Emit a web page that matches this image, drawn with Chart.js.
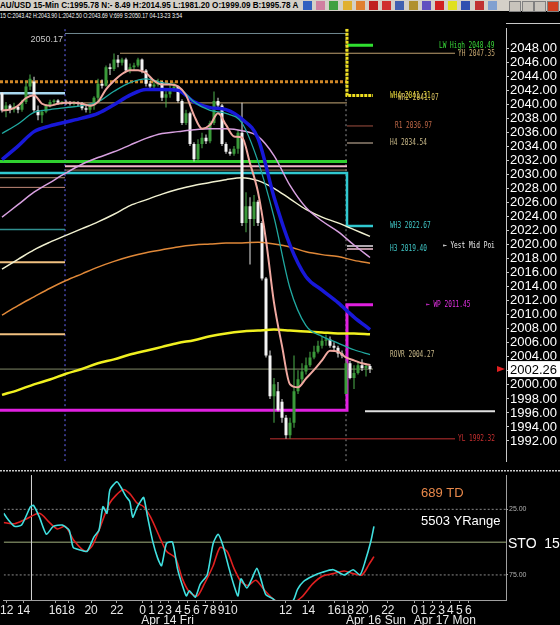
<!DOCTYPE html>
<html>
<head>
<meta charset="utf-8">
<script src="https://cdn.jsdelivr.net/npm/chart.js@4.4.0/dist/chart.umd.min.js"></script>
<style>
html, body { margin: 0; padding: 0; background: #000; width: 560px; height: 625px; overflow: hidden; }
#titlebar { position: absolute; left: 0; top: 0; width: 560px; height: 11px; background: #d4d0c8; }
#titletext { position: absolute; left: 0; top: 0; font: bold 9px "Liberation Sans", Arial, sans-serif; line-height: 11px; color: #000; white-space: nowrap; transform-origin: left top; }
#infotext { position: absolute; left: 0; top: 11px; font: 8px "Liberation Sans", Arial, sans-serif; line-height: 9px; color: #fff; white-space: nowrap; transform-origin: left top; }
.icon { position: absolute; top: 1px; width: 9px; height: 9px; }
#mainChart { position: absolute; left: 0; top: 20px; }
#stoChart { position: absolute; left: 0; top: 470px; }
</style>
</head>
<body>
<div id="titlebar"><div id="titletext">AU/USD 15-Min C:1995.78 N:- 8.49 H:2014.95 L:1981.20 O:1999.09 B:1995.78 A</div></div>
<div id="infotext">15 C:2043.42 H:2043.90 L:2042.50 O:2043.69 V:699 S:2050.17 04-13-23 3:54</div>
<canvas id="mainChart" width="560" height="450"></canvas>
<canvas id="stoChart" width="560" height="155"></canvas>
<script>
// ---- candles (one per bar, bar index = position) ----
const candleOpen = [2041.65, 2039.3, 2039.9, 2039.3, 2039.7, 2039.3, 2040.4, 2042.6, 2043.3, 2039.2,
  2038.5, 2039.0, 2039.9, 2040.4, 2040.6, 2040.3, 2040.4, 2040.3, 2040.1, 2040.3,
  2040.1, 2039.5, 2039.3, 2039.9, 2041.0, 2043.0, 2042.7, 2045.35, 2045.1, 2046.45,
  2046.0, 2046.45, 2044.9, 2045.35, 2045.6, 2046.45, 2044.9, 2043.0, 2042.6, 2042.9,
  2043.2, 2041.0, 2041.5, 2042.3, 2042.6, 2040.55, 2037.4, 2038.8, 2034.4, 2032.2,
  2034.4, 2035.3, 2034.8, 2037.4, 2040.55, 2039.9, 2034.4, 2033.3, 2033.0, 2033.7,
  2036.0, 2023.1, 2025.5, 2023.7, 2026.15, 2023.1, 2015.2, 2004.2, 1998.4, 1999.1,
  1997.6, 1995.3, 1992.8, 1994.6, 1999.1, 2000.8, 2001.9, 2002.8, 2003.9, 2004.75,
  2005.6, 2006.3, 2006.5, 2005.6, 2005.3, 2004.5, 1998.7, 2003.1, 2001.0, 2001.7,
  2002.8, 2002.4, 2002.7];
const candleHigh = [2041.8, 2040.4, 2040.1, 2040.3, 2040.0, 2040.7, 2043.3, 2044.3, 2044.0, 2039.9,
  2039.3, 2040.1, 2040.7, 2040.8, 2040.8, 2040.55, 2040.7, 2040.55, 2040.55, 2040.5,
  2040.4, 2039.9, 2040.1, 2041.2, 2043.7, 2043.6, 2045.6, 2045.9, 2047.3, 2047.1,
  2046.7, 2046.7, 2045.9, 2046.0, 2046.7, 2046.6, 2045.1, 2043.4, 2043.6, 2043.7,
  2043.4, 2042.3, 2042.9, 2043.2, 2042.7, 2040.8, 2039.3, 2039.0, 2034.65, 2035.06,
  2036.0, 2035.75, 2037.7, 2041.9, 2041.0, 2040.1, 2034.65, 2033.7, 2034.1, 2036.4,
  2040.3, 2027.5, 2026.8, 2027.1, 2026.4, 2023.4, 2015.4, 2004.9, 2001.0, 2000.4,
  1998.0, 1995.7, 1995.3, 2004.2, 2002.1, 2003.1, 2003.9, 2004.75, 2005.6, 2006.3,
  2006.9, 2007.2, 2006.9, 2006.1, 2005.6, 2004.9, 2003.5, 2003.4, 2002.8, 2003.4,
  2003.65, 2003.1, 2003.0];
const candleLow = [2038.9, 2038.2, 2038.8, 2038.9, 2038.8, 2039.0, 2040.1, 2042.1, 2038.9, 2037.8,
  2037.4, 2038.8, 2039.6, 2039.9, 2040.0, 2040.0, 2040.0, 2039.9, 2039.9, 2039.8,
  2039.2, 2038.9, 2038.8, 2039.3, 2040.55, 2042.3, 2042.6, 2044.25, 2044.8, 2045.35,
  2045.6, 2044.7, 2044.5, 2044.9, 2045.35, 2044.5, 2042.6, 2042.2, 2042.3, 2042.6,
  2040.55, 2039.6, 2041.0, 2041.9, 2040.3, 2037.1, 2037.1, 2034.1, 2031.9, 2031.9,
  2033.8, 2034.4, 2034.5, 2037.1, 2039.3, 2034.1, 2033.0, 2032.7, 2032.7, 2033.0,
  2022.7, 2021.8, 2017.2, 2022.7, 2022.7, 2014.9, 2003.9, 1998.0, 1994.6, 1996.2,
  1994.6, 1992.3, 1992.3, 1993.9, 1998.7, 2000.1, 2001.5, 2002.55, 2003.65, 2004.5,
  2005.2, 2005.6, 2005.3, 2004.75, 2003.9, 2003.8, 1998.7, 2000.8, 1999.4, 2001.5,
  2002.0, 2001.2, 2001.7];
const candleClose = [2039.18, 2039.9, 2039.3, 2039.7, 2039.3, 2040.4, 2042.6, 2043.7, 2039.2, 2038.5,
  2039.0, 2039.9, 2040.4, 2040.6, 2040.3, 2040.4, 2040.3, 2040.1, 2040.3, 2040.1,
  2039.5, 2039.3, 2039.9, 2041.0, 2043.0, 2042.7, 2045.35, 2045.1, 2046.45, 2046.0,
  2046.45, 2044.9, 2045.35, 2045.6, 2046.45, 2044.9, 2043.0, 2042.6, 2042.9, 2043.2,
  2041.0, 2041.5, 2042.3, 2042.6, 2040.55, 2037.4, 2038.8, 2034.4, 2032.2, 2034.4,
  2035.3, 2034.8, 2037.4, 2040.55, 2039.9, 2034.4, 2033.3, 2033.0, 2033.7, 2036.0,
  2023.1, 2025.5, 2023.7, 2026.15, 2023.1, 2015.2, 2004.2, 1998.4, 2000.1, 1996.4,
  1995.3, 1992.8, 1994.6, 1999.1, 2000.8, 2001.9, 2002.8, 2003.9, 2004.75, 2005.6,
  2006.3, 2006.5, 2005.6, 2005.3, 2004.5, 2004.2, 2003.1, 2001.0, 2001.7, 2002.8,
  2002.4, 2002.7, 2002.26];

// ---- moving averages ----
const maBars = [0, 4, 8, 12, 16, 20, 24, 28, 32, 36, 40, 44, 48, 52, 56, 60, 64, 68, 72, 76, 80, 84, 88, 92];
const blueMA = [2032.18, 2034.10, 2036.16, 2036.98, 2037.53, 2038.08, 2038.77, 2040.00, 2041.37, 2042.19, 2042.19, 2042.06,
  2040.41, 2039.59, 2039.31, 2037.94, 2035.20, 2026.83, 2019.97, 2015.45, 2013.53, 2011.74, 2009.69, 2007.90];
const tealMA = [2035.89, 2037.26, 2038.90, 2039.31, 2039.59, 2039.86, 2040.41, 2041.92, 2043.16, 2043.70, 2043.16, 2042.61,
  2040.41, 2039.18, 2038.77, 2037.39, 2031.91, 2023.95, 2013.80, 2008.45, 2006.94, 2005.98, 2005.02, 2004.34];
const lilacMA = [2023.95, 2025.73, 2027.52, 2028.89, 2030.26, 2031.50, 2032.46, 2033.28, 2034.24, 2035.20, 2035.89, 2036.16,
  2036.43, 2036.57, 2036.57, 2036.30, 2035.47, 2032.73, 2028.48, 2025.32, 2023.40, 2021.89, 2019.97, 2018.19];
const creamMA = [2016.54, 2017.92, 2019.29, 2020.38, 2021.35, 2022.31, 2023.27, 2024.36, 2025.60, 2026.42, 2027.24, 2027.93,
  2028.48, 2028.89, 2029.30, 2029.58, 2029.16, 2028.07, 2026.56, 2025.05, 2023.95, 2023.13, 2022.17, 2021.21];
const orangeMA = [2009.96, 2011.33, 2012.57, 2013.80, 2014.90, 2015.86, 2016.82, 2017.64, 2018.33, 2018.88, 2019.29, 2019.70,
  2019.97, 2020.11, 2020.25, 2020.25, 2020.38, 2020.11, 2019.70, 2019.01, 2018.60, 2018.33, 2017.78, 2017.37];
const yellowMA = [1998.58, 1999.26, 2000.08, 2000.77, 2001.59, 2002.28, 2003.10, 2003.65, 2004.34, 2004.88, 2005.43, 2005.98,
  2006.39, 2006.94, 2007.35, 2007.63, 2007.77, 2007.90, 2007.77, 2007.63, 2007.49, 2007.35, 2007.35, 2007.22];
const pinkBars = [0, 2, 4, 6, 8, 10, 12, 14, 16, 18, 20, 22, 24, 26, 28, 30, 32, 34, 36, 38, 40, 42, 44, 46,
  48, 50, 52, 54, 56, 58, 60, 62, 64, 66, 68, 70, 72, 74, 76, 78, 80, 82, 84, 86, 88, 90, 92];
const pinkMA = [2039.18, 2039.31, 2039.86, 2040.96, 2041.37, 2040.14, 2039.86, 2040.14, 2040.27, 2040.27,
  2040.14, 2039.86, 2040.41, 2042.19, 2043.43, 2044.39, 2044.94, 2044.94, 2044.53, 2043.43,
  2042.88, 2042.88, 2042.61, 2041.37, 2038.49, 2036.57, 2037.12, 2038.77, 2037.12, 2035.47,
  2035.34, 2031.63, 2027.52, 2020.66, 2011.74, 2005.57, 2000.08, 1999.67, 2000.91, 2002.14,
  2003.51, 2004.88, 2004.75, 2003.92, 2003.51, 2003.10, 2002.83];

// ---- horizontal levels: from bar, to bar, price ----
const levelFrom  = [-0.5, 15.75, 15.75, -0.5, -0.5, -0.5, -0.5, -0.5, -0.5, -0.5, 15.75, 15.75, 29.5, 86.25, 86.25, 86.25, 86.25, 86.25, 90.75, 67, -0.5];
const levelTo    = [86.25, 86.25, 86.25, 15.75, 15.75, 15.75, 15.75, 15.75, 86.25, 15.75, 86.25, 86.25, 113.25, 92.75, 92.75, 92.75, 92.75, 92.75, 123.25, 113.25, 92.75];
const levelPrice = [2031.91, 2031.22, 2030.67, 2029.58, 2028.20, 2022.17, 2017.50, 2007.22, 2043.29, 2041.65, 2040.27, 2050.17, 2047.35,
  2048.49, 2036.97, 2034.54, 2019.84, 2019.40, 1996.24, 1992.32, 2002.26];
const stepBars = [-0.5, 86.25, 86.25, 92.75];
const cyanStep = [2030.26, 2030.26, 2022.67, 2022.67];
const magentaStep = [1996.38, 1996.38, 2011.45, 2011.45];
const yellowStepBars = [86.25, 86.25, 92.75];
const yellowStep = [2050.84, 2041.31, 2041.31];
const markerBars = [15.75, 86];

// ---- level notes ----
const noteTexts = ['LW High 2048.49', 'YH 2047.35', 'WH4 2041.31', 'WR2 2041.07', 'R1 2036.97', 'H4 2034.54', 'WH3 2022.67',
  'H3 2019.40', '\u2190 Yest Mid Poi', '\u2190 WP 2011.45', 'ROVR 2004.27', 'YL 1992.32'];
const noteBars = [109.25, 114, 97, 99, 98.25, 97, 97, 97, 110.25, 106, 97, 114];
const notePrices = [2048.49, 2047.35, 2041.31, 2041.07, 2036.97, 2034.54, 2022.67, 2019.40, 2019.84, 2011.45, 2004.27, 1992.32];
const priceTicks = [1992, 1994, 1996, 1998, 2000, 2002, 2004, 2006, 2008, 2010, 2012, 2014, 2016, 2018, 2020,
  2022, 2024, 2026, 2028, 2030, 2032, 2034, 2036, 2038, 2040, 2042, 2044, 2046, 2048];

// ---- stochastic ----
const stochKBars = [-0.5, 0.4, 2.25, 4, 6.25, 7, 8.5, 10.25, 12, 14.25, 16, 17, 18.75, 20.5, 22.25, 23.5, 24.5, 25.5, 26.25, 28,
  29, 30.25, 31.25, 32, 33, 33.75, 34.75, 35.75, 37, 38.25, 39.25, 40.5, 42, 43.25, 44.5, 45.5, 46.25, 47.75, 49, 50.75,
  52.25, 53.5, 54.75, 56.25, 57.5, 58.5, 59.25, 60.75, 62, 63.25, 64.25, 65.5, 67.25, 69, 70.75, 72.5, 73.5, 75, 77.25, 79.75,
  82.5, 85.25, 87.5, 89.25, 90.5, 92, 92.75];
const stochK = [28, 32, 38, 37, 23, 22, 31, 44, 38, 37, 41, 54, 56, 57, 46, 41, 23, 28, 10, 4,
  8, 15, 19, 31, 24, 20, 16, 31, 49, 62, 68, 51, 50, 70, 83, 91, 87, 92, 82, 75,
  51, 44, 53, 70, 83, 91, 78, 85, 78, 70, 78, 90, 93, 98, 99, 94, 86, 80, 76, 73,
  71, 75, 71, 75, 65, 49, 38];
const stochDBars = [-0.5, 2.25, 4.75, 8.5, 11, 13, 15, 17.25, 20, 21.75, 23.5, 26.25, 29.5, 31.25, 33, 34.75, 36.5, 38.75, 40.5, 42.75,
  44.5, 46.25, 48.25, 50, 52.25, 54, 55.75, 57.5, 59.25, 61, 63, 65, 67.25, 70.75, 74.5, 77.25, 79.75, 82.5, 85.25, 87.5,
  89.75, 91.5, 92.75];
const stochD = [35, 36, 33, 28, 35, 40, 38, 49, 57, 53, 41, 20, 10, 13, 20, 23, 31, 46, 57, 62,
  78, 88, 91, 82, 68, 54, 57, 70, 80, 83, 79, 86, 93, 99, 92, 82, 76, 74, 72, 74,
  75, 67, 61];
const stoLevels = [25, 50, 75];

// ---- time axis ----
const hourTickBars = [0.25, 4.5, 12.5, 15.75, 21.5, 28, 34.5, 36.75, 39, 41, 43.5, 45.75, 48, 50.25, 52.25, 54.25, 56.75,
  70.5, 76.25, 82.75, 86, 89.75, 96.25, 103, 105.25, 107.5, 109.75, 112, 114.25, 116.5];
const hourTickLabels = ['12', '14', '16', '18', '20', '22', '0', '1', '2', '3', '4', '5', '6', '7', '8', '9', '10',
  '12', '14', '16', '18', '20', '22', '0', '1', '2', '3', '4', '5', '6'];
const dateLabels = ['Apr 14 Fri', 'Apr 16 Sun', 'Apr 17 Mon'];
const dateLabelBars = [40.75, 93.25, 110.6];
const sessionBar = 6.5;

// ---- styles ----
const FONT = '"Liberation Sans", Arial, sans-serif';
const levelColors = ['#30d030', '#f0b8c8', '#a08060', '#b09070', '#c08878', '#309090', '#f0c080', '#f0c080', '#d08828', '#a8d8f0',
  '#a08860', '#708890', '#c0a070', '#30e030', '#a05040', '#908070', '#e8e0e8', '#f0c0d0', '#e0e0e0', '#802020', '#808868'];
const levelWidths = [3, 2, 1, 1, 1, 1.5, 2, 2, 3, 2.5, 1.2, 1, 1, 3, 1, 1.5, 1.5, 1.5, 2, 1.5, 1];
const noteColors = ['#38d838', '#c8a870', '#e8d838', '#d8c060', '#c06848', '#c8b888', '#40c8c8', '#40c8c8', '#f0f0f0', '#e030e0', '#c8b888', '#c83030'];

function pts(xs, ys) { return xs.map((x, i) => ({ x: x, y: ys[i] })); }
function lineSet(xs, ys, color, width, order, extra) {
  return Object.assign({ type: 'line', data: pts(xs, ys), borderColor: color, borderWidth: width,
    pointRadius: 0, tension: 0, fill: false, order: order }, extra || {});
}

// title bar icons
const iconColors = ['#3060c0', '#d080a0', '#40a040', '#e0b030', '#e08030', '#c02020', '#d03030', '#4060b0', '#b09030',
  '#6050c0', '#d02020', '#e0e020', '#3050b0', '#c03030', '#80a0d0'];
const bar = document.getElementById('titlebar');
iconColors.forEach((c, i) => {
  const s = document.createElement('span');
  s.className = 'icon';
  s.style.left = (303 + i * 13.2) + 'px';
  s.style.background = c;
  bar.appendChild(s);
});
['#c8c4bc', '#c8c4bc', '#c8c4bc', '#d04020'].forEach((c, i) => {
  const s = document.createElement('span');
  s.className = 'icon';
  s.style.left = (509 + i * 12.5) + 'px';
  s.style.width = '10px';
  s.style.background = c;
  s.style.border = '0.5px solid #808080';
  bar.appendChild(s);
});
function fitWidth(id, w) {
  const el = document.getElementById(id);
  el.style.transform = 'scaleX(' + (w / el.offsetWidth) + ')';
}
fitWidth('titletext', 298);
fitWidth('infotext', 182);

// ---- main price chart ----
const mainSets = [];
mainSets.push({ type: 'bar', data: candleOpen.map((o, i) => ({ x: i, y: [candleLow[i], candleHigh[i]] })),
  backgroundColor: candleOpen.map((o, i) => candleClose[i] >= o ? '#4caf4c' : '#e8e8e8'),
  barThickness: 1, grouped: false, borderWidth: 0, inflateAmount: 0, order: 21 });
mainSets.push({ type: 'bar', data: candleOpen.map((o, i) => ({ x: i, y: [o, candleClose[i]] })),
  backgroundColor: candleOpen.map((o, i) => candleClose[i] >= o ? '#3a9a3a' : '#f4f4f4'),
  barThickness: 3, grouped: false, borderWidth: 0, inflateAmount: 0, minBarLength: 1, order: 20 });
levelPrice.forEach((p, i) => {
  const dash = i === 8 ? [3, 2] : [];
  mainSets.push(lineSet([levelFrom[i], levelTo[i]], [p, p], levelColors[i], levelWidths[i], 30, { borderDash: dash }));
});
mainSets.push(lineSet(stepBars, cyanStep, '#30c8d0', 2.5, 29));
mainSets.push(lineSet(stepBars, magentaStep, '#e020e0', 3, 29));
mainSets.push(lineSet(yellowStepBars, yellowStep, '#f0e020', 3, 29, { borderDash: [3, 1] }));
mainSets.push(lineSet([markerBars[0], markerBars[0]], [1989.11, 2050.84], '#6a6aff', 1, 35, { borderDash: [2, 3] }));
mainSets.push(lineSet([markerBars[1], markerBars[1]], [1989.11, 2050.84], '#909090', 1, 35, { borderDash: [2, 3] }));
const maOpts = { cubicInterpolationMode: 'monotone' };
mainSets.push(lineSet(maBars, yellowMA, '#f0f020', 2.5, 15, maOpts));
mainSets.push(lineSet(maBars, orangeMA, '#e08838', 1.5, 14, maOpts));
mainSets.push(lineSet(maBars, creamMA, '#f0f0d0', 1.5, 13, maOpts));
mainSets.push(lineSet(maBars, lilacMA, '#d8a0e0', 1.5, 12, maOpts));
mainSets.push(lineSet(maBars, blueMA, '#1818d8', 3.5, 11, maOpts));
mainSets.push(lineSet(maBars, tealMA, '#20a8a0', 1.3, 10, maOpts));
mainSets.push(lineSet(pinkBars, pinkMA, '#f0a8a0', 2, 9, maOpts));

const mainPlugin = {
  id: 'mainNotes',
  afterDraw(chart) {
    const { ctx, scales: { x, y } } = chart;
    ctx.save();
    ctx.textBaseline = 'middle';
    ctx.font = '9px "DejaVu Sans Mono", monospace';
    noteTexts.forEach((t, i) => {
      ctx.fillStyle = noteColors[i];
      ctx.fillText(t, x.getPixelForValue(noteBars[i]), y.getPixelForValue(notePrices[i]), t.length * 3.7);
    });
    // S level value
    ctx.fillStyle = '#c8c8c8';
    ctx.textAlign = 'right';
    ctx.textBaseline = 'top';
    ctx.font = '9px ' + FONT;
    ctx.fillText(levelPrice[11].toFixed(2), x.getPixelForValue(markerBars[0]) - 2, y.getPixelForValue(levelPrice[11]) + 2);
    // axis top edge
    ctx.strokeStyle = '#c8c8c8';
    ctx.lineWidth = 1;
    ctx.beginPath();
    ctx.moveTo(chart.chartArea.right, 3.5);
    ctx.lineTo(560, 3.5);
    ctx.stroke();
    // last price box
    const last = candleClose[candleClose.length - 1];
    const yp = y.getPixelForValue(last);
    ctx.fillStyle = '#ffffff';
    ctx.fillRect(chart.chartArea.right + 2, yp - 8, 52, 16);
    ctx.fillStyle = '#000000';
    ctx.textAlign = 'left';
    ctx.textBaseline = 'middle';
    ctx.font = '13px ' + FONT;
    ctx.fillText(last.toFixed(2), chart.chartArea.right + 4, yp + 1);
    ctx.fillStyle = '#e02020';
    ctx.beginPath();
    ctx.moveTo(chart.chartArea.right - 9, yp - 3);
    ctx.lineTo(chart.chartArea.right - 1, yp);
    ctx.lineTo(chart.chartArea.right - 9, yp + 3);
    ctx.closePath();
    ctx.fill();
    ctx.restore();
  }
};

new Chart(document.getElementById('mainChart'), {
  type: 'bar',
  data: { datasets: mainSets },
  options: {
    animation: false, responsive: false, devicePixelRatio: 1, events: [],
    layout: { padding: 0, autoPadding: false },
    plugins: { legend: { display: false }, tooltip: { enabled: false } },
    scales: {
      x: { type: 'linear', min: -0.5, max: 126, offset: false, display: false },
      y: {
        position: 'right', min: 1989.11, max: 2050.84,
        afterFit: s => { s.width = 54; },
        afterBuildTicks: s => { s.ticks = priceTicks.map(v => ({ value: v })); },
        ticks: { autoSkip: false, color: '#ffffff', padding: 1, font: { size: 13, family: FONT }, callback: v => v.toFixed(2) },
        grid: { drawOnChartArea: false, tickLength: 3, color: '#c8c8c8' },
        border: { color: '#c8c8c8' }
      }
    }
  },
  plugins: [mainPlugin]
});

// ---- stochastic panel ----
const stoSets = [];
stoLevels.forEach(v => {
  stoSets.push(lineSet([-0.5, 126], [v, v], v === 50 ? '#6c7654' : '#8a8a8a', v === 50 ? 1.5 : 1, 30,
    { borderDash: v === 50 ? [] : [2, 2] }));
});
stoSets.push(lineSet([sessionBar, sessionBar], [-1, 94.1], '#d0d0d0', 1, 29));
stoSets.push(lineSet(stochDBars, stochD, '#e02020', 1.6, 2, { tension: 0.25, clip: 0 }));
stoSets.push(lineSet(stochKBars, stochK, '#40e0e0', 1.6, 1, { tension: 0.2, clip: 0 }));

const stoPlugin = {
  id: 'stoNotes',
  afterDraw(chart) {
    const { ctx, scales: { x } } = chart;
    ctx.save();
    ctx.strokeStyle = '#c8c8c8';
    ctx.lineWidth = 1.5;
    ctx.setLineDash([2, 1]);
    ctx.beginPath();
    ctx.moveTo(0, 0.75);
    ctx.lineTo(560, 0.75);
    ctx.stroke();
    ctx.setLineDash([]);
    ctx.textBaseline = 'middle';
    ctx.font = '13px ' + FONT;
    ctx.fillStyle = '#e8884a';
    ctx.fillText('689 TD', 421, 23);
    ctx.fillStyle = '#ffffff';
    ctx.fillText('5503 YRange', 421, 51);
    ctx.font = '14px ' + FONT;
    ctx.fillText('STO  15,', chart.chartArea.right + 2, 74);
    ctx.font = '12px ' + FONT;
    ctx.textAlign = 'center';
    ctx.fillStyle = '#e8e8e8';
    dateLabels.forEach((t, i) => ctx.fillText(t, x.getPixelForValue(dateLabelBars[i]), 151));
    ctx.restore();
  }
};

new Chart(document.getElementById('stoChart'), {
  type: 'line',
  data: { datasets: stoSets },
  options: {
    animation: false, responsive: false, devicePixelRatio: 1, events: [],
    layout: { padding: { top: 1 }, autoPadding: false },
    plugins: { legend: { display: false }, tooltip: { enabled: false } },
    scales: {
      x: {
        type: 'linear', min: -0.5, max: 126,
        afterFit: s => { s.height = 25; },
        afterBuildTicks: s => { s.ticks = hourTickBars.map(v => ({ value: v })); },
        ticks: { autoSkip: false, maxRotation: 0, padding: 0, color: '#e8e8e8', font: { size: 12, family: FONT },
          callback: (v, i) => hourTickLabels[i] },
        grid: { drawOnChartArea: false, tickLength: 3, color: '#a0a0a0' },
        border: { color: '#a0a0a0' }
      },
      y: {
        position: 'right', reverse: true, min: -1, max: 94.1,
        afterFit: s => { s.width = 54; },
        afterBuildTicks: s => { s.ticks = [25, 75].map(v => ({ value: v })); },
        ticks: { autoSkip: false, color: '#b0b0b0', padding: 1, font: { size: 7, family: FONT }, callback: v => v.toFixed(2) },
        grid: { drawOnChartArea: false, tickLength: 2, color: '#a0a0a0' },
        border: { color: '#a0a0a0' }
      }
    }
  },
  plugins: [stoPlugin]
});
</script>
</body>
</html>
